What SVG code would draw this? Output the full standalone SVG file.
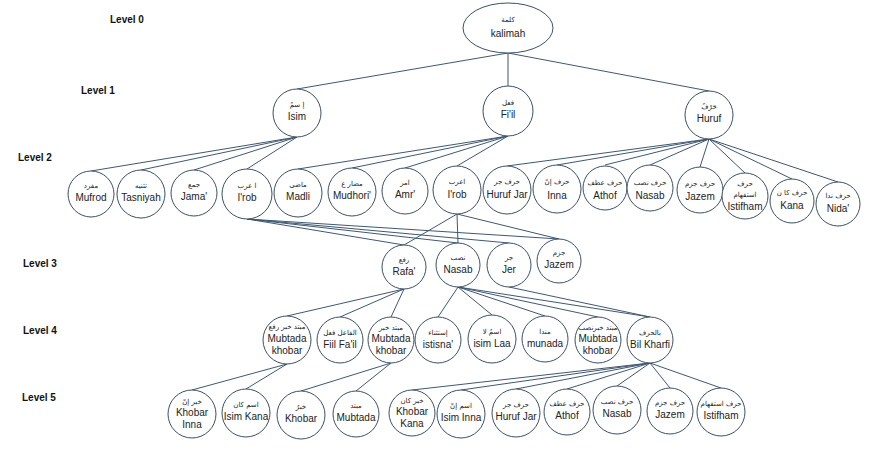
<svg xmlns="http://www.w3.org/2000/svg" width="881" height="457" viewBox="0 0 881 457">
<style>
.n{fill:#fff;stroke:#3c5064;stroke-width:1}
.e line{stroke:#3f5870;stroke-width:1}
text{text-anchor:middle;fill:#222}
.l{font-family:"Liberation Sans",Arial,sans-serif;font-size:10px}
.a{font-family:"DejaVu Sans","Noto Sans",sans-serif;font-size:7px}
.v{font-family:"Liberation Sans",Arial,sans-serif;font-size:10px;font-weight:bold;text-anchor:start;fill:#111}
</style>
<rect width="881" height="457" fill="#fff"/>
<g id="levels">
<text class="v" x="110" y="23">Level 0</text>
<text class="v" x="81" y="94">Level 1</text>
<text class="v" x="18" y="161">Level 2</text>
<text class="v" x="23" y="267">Level 3</text>
<text class="v" x="23" y="334">Level 4</text>
<text class="v" x="22" y="401">Level 5</text>
</g>
<g id="connectors" class="e">
<line x1="508" y1="53" x2="297" y2="89"/>
<line x1="508" y1="53" x2="508" y2="86"/>
<line x1="508" y1="53" x2="709" y2="91"/>
<line x1="297" y1="137" x2="91" y2="171"/>
<line x1="297" y1="137" x2="141" y2="170"/>
<line x1="297" y1="137" x2="194" y2="170"/>
<line x1="297" y1="137" x2="247" y2="169"/>
<line x1="508" y1="136" x2="298" y2="169"/>
<line x1="508" y1="136" x2="352" y2="168"/>
<line x1="508" y1="136" x2="405" y2="168"/>
<line x1="508" y1="136" x2="457" y2="166"/>
<line x1="709" y1="139" x2="507" y2="166"/>
<line x1="709" y1="139" x2="557" y2="165"/>
<line x1="709" y1="139" x2="605" y2="165"/>
<line x1="709" y1="139" x2="650" y2="165"/>
<line x1="709" y1="139" x2="700" y2="167"/>
<line x1="709" y1="139" x2="745" y2="173"/>
<line x1="709" y1="139" x2="792" y2="179"/>
<line x1="709" y1="139" x2="838" y2="182"/>
<line x1="247" y1="219" x2="404" y2="245"/>
<line x1="247" y1="219" x2="458" y2="243"/>
<line x1="247" y1="219" x2="509" y2="243"/>
<line x1="247" y1="219" x2="559" y2="239"/>
<line x1="457" y1="214" x2="404" y2="245"/>
<line x1="457" y1="214" x2="458" y2="243"/>
<line x1="457" y1="214" x2="559" y2="239"/>
<line x1="404" y1="289" x2="287" y2="316"/>
<line x1="404" y1="289" x2="340" y2="317"/>
<line x1="404" y1="289" x2="391" y2="317"/>
<line x1="458" y1="287" x2="438" y2="317"/>
<line x1="458" y1="287" x2="492" y2="315"/>
<line x1="458" y1="287" x2="545" y2="316"/>
<line x1="458" y1="287" x2="598" y2="317"/>
<line x1="458" y1="287" x2="650" y2="317"/>
<line x1="509" y1="287" x2="650" y2="317"/>
<line x1="287" y1="364" x2="192" y2="390"/>
<line x1="287" y1="364" x2="246" y2="389"/>
<line x1="391" y1="363" x2="301" y2="391"/>
<line x1="391" y1="363" x2="356" y2="391"/>
<line x1="650" y1="363" x2="412" y2="390"/>
<line x1="650" y1="363" x2="461" y2="390"/>
<line x1="650" y1="363" x2="516" y2="389"/>
<line x1="650" y1="363" x2="567" y2="389"/>
<line x1="650" y1="363" x2="617" y2="386"/>
<line x1="650" y1="363" x2="670" y2="388"/>
<line x1="650" y1="363" x2="721" y2="388"/>
</g>
<g id="kalimah"><ellipse class="n" cx="508" cy="28" rx="45" ry="25"/><text class="a" x="508" y="22">كلمة</text><text class="l" x="508" y="37">kalimah</text></g>
<g id="isim"><circle class="n" cx="297" cy="113" r="24"/><text class="a" x="297" y="107">إ سمٌ</text><text class="l" x="297" y="120">Isim</text></g>
<g id="fiil"><circle class="n" cx="508" cy="111" r="25"/><text class="a" x="508" y="105">فعل</text><text class="l" x="508" y="118">Fi'il</text></g>
<g id="huruf"><circle class="n" cx="709" cy="115" r="24"/><text class="a" x="709" y="109">حَرْفٌ</text><text class="l" x="709" y="122">Huruf</text></g>

<g id="mufrod"><circle class="n" cx="91" cy="194" r="23"/><text class="a" x="91" y="188">مفرد</text><text class="l" x="91" y="201">Mufrod</text></g>
<g id="tasniyah"><circle class="n" cx="141" cy="194" r="24"/><text class="a" x="141" y="188">تثنيه</text><text class="l" x="141" y="201">Tasniyah</text></g>
<g id="jama"><circle class="n" cx="194" cy="193" r="23"/><text class="a" x="194" y="187">جمع</text><text class="l" x="194" y="200">Jama'</text></g>
<g id="irob-isim"><circle class="n" cx="247" cy="194" r="25"/><text class="a" x="247" y="188">ا عرب</text><text class="l" x="247" y="201">I'rob</text></g>
<g id="madli"><circle class="n" cx="298" cy="193" r="24"/><text class="a" x="298" y="187">ماضى</text><text class="l" x="298" y="200">Madli</text></g>
<g id="mudhori"><circle class="n" cx="352" cy="192" r="24"/><text class="a" x="352" y="186">مضار ع</text><text class="l" x="352" y="199">Mudhori'</text></g>
<g id="amr"><circle class="n" cx="405" cy="191" r="23"/><text class="a" x="405" y="185">امر</text><text class="l" x="405" y="198">Amr'</text></g>
<g id="irob-fiil"><circle class="n" cx="457" cy="190" r="24"/><text class="a" x="457" y="184">اعرب</text><text class="l" x="457" y="198">I'rob</text></g>
<g id="huruf-jar"><circle class="n" cx="507" cy="190" r="24"/><text class="a" x="507" y="184">حرف جر</text><text class="l" x="507" y="198">Huruf Jar</text></g>
<g id="inna"><circle class="n" cx="557" cy="189" r="24"/><text class="a" x="557" y="184">حرف إنّ</text><text class="l" x="557" y="199">Inna</text></g>
<g id="athof"><circle class="n" cx="605" cy="188" r="22"/><text class="a" x="605" y="185">حرف عطف</text><text class="l" x="605" y="199">Athof</text></g>
<g id="nasab-h"><circle class="n" cx="650" cy="188" r="23"/><text class="a" x="650" y="185">حرف نصب</text><text class="l" x="650" y="199">Nasab</text></g>
<g id="jazem-h"><circle class="n" cx="700" cy="190" r="23"/><text class="a" x="700" y="186">حرف جزم</text><text class="l" x="700" y="200">Jazem</text></g>
<g id="istifham-h"><circle class="n" cx="745" cy="196" r="23"/><text class="a" x="745" y="186">حرف</text><text class="a" x="745" y="197">استفهام</text><text class="l" x="745" y="210">Istifham</text></g>
<g id="kana"><circle class="n" cx="792" cy="201" r="22"/><text class="a" x="792" y="195">حرف كا ن</text><text class="l" x="792" y="209">Kana</text></g>
<g id="nida"><circle class="n" cx="838" cy="204" r="22"/><text class="a" x="838" y="198">حرف ندا</text><text class="l" x="838" y="212">Nida'</text></g>

<g id="rafa"><circle class="n" cx="404" cy="267" r="22"/><text class="a" x="404" y="262">رفع</text><text class="l" x="404" y="275">Rafa'</text></g>
<g id="nasab"><circle class="n" cx="458" cy="265" r="22"/><text class="a" x="458" y="260">نصب</text><text class="l" x="458" y="273">Nasab</text></g>
<g id="jer"><circle class="n" cx="509" cy="265" r="22"/><text class="a" x="509" y="260">جر</text><text class="l" x="509" y="273">Jer</text></g>
<g id="jazem"><circle class="n" cx="559" cy="261" r="22"/><text class="a" x="559" y="255">جزم</text><text class="l" x="559" y="268">Jazem</text></g>

<g id="mubtada-khobar-rafa"><circle class="n" cx="287" cy="340" r="24"/><text class="a" x="287" y="329">مبتد خبر رفع</text><text class="l" x="287" y="342">Mubtada</text><text class="l" x="287" y="354">khobar</text></g>
<g id="fiil-fail"><circle class="n" cx="340" cy="340" r="23"/><text class="a" x="340" y="335">الفاعل فعل</text><text class="l" x="340" y="348">Fiil Fa'il</text></g>
<g id="mubtada-khobar"><circle class="n" cx="391" cy="340" r="23"/><text class="a" x="391" y="330">مبتد خبر</text><text class="l" x="391" y="342">Mubtada</text><text class="l" x="391" y="354">khobar</text></g>
<g id="istisna"><circle class="n" cx="438" cy="340" r="23"/><text class="a" x="438" y="335">إستثناء</text><text class="l" x="438" y="348">istisna'</text></g>
<g id="isim-laa"><circle class="n" cx="492" cy="339" r="24"/><text class="a" x="492" y="334">اسمُ لا</text><text class="l" x="492" y="347">isim Laa</text></g>
<g id="munada"><circle class="n" cx="545" cy="339" r="23"/><text class="a" x="545" y="334">مندا</text><text class="l" x="545" y="347">munada</text></g>
<g id="mubtada-khobar-nasab"><circle class="n" cx="598" cy="340" r="23"/><text class="a" x="598" y="330">مبتد خبرنصب</text><text class="l" x="598" y="342">Mubtada</text><text class="l" x="598" y="354">khobar</text></g>
<g id="bil-kharfi"><circle class="n" cx="650" cy="340" r="23"/><text class="a" x="650" y="335">بالحرف</text><text class="l" x="650" y="348">Bil Kharfi</text></g>

<g id="khobar-inna"><circle class="n" cx="192" cy="414" r="24"/><text class="a" x="192" y="404">خبر إنّ</text><text class="l" x="192" y="416">Khobar</text><text class="l" x="192" y="428">Inna</text></g>
<g id="isim-kana"><circle class="n" cx="246" cy="413" r="24"/><text class="a" x="246" y="407">اسم كان</text><text class="l" x="246" y="420">Isim Kana</text></g>
<g id="khobar"><circle class="n" cx="301" cy="415" r="24"/><text class="a" x="301" y="409">خبرٌ</text><text class="l" x="301" y="422">Khobar</text></g>
<g id="mubtada"><circle class="n" cx="356" cy="414" r="23"/><text class="a" x="356" y="408">مبتد</text><text class="l" x="356" y="421">Mubtada</text></g>
<g id="khobar-kana"><circle class="n" cx="412" cy="413" r="23"/><text class="a" x="412" y="403">خبر كان</text><text class="l" x="412" y="415">Khobar</text><text class="l" x="412" y="427">Kana</text></g>
<g id="isim-inna"><circle class="n" cx="461" cy="414" r="24"/><text class="a" x="461" y="408">اسم إنّ</text><text class="l" x="461" y="421">Isim Inna</text></g>
<g id="huruf-jar-5"><circle class="n" cx="516" cy="413" r="24"/><text class="a" x="516" y="407">حرف جر</text><text class="l" x="516" y="420">Huruf Jar</text></g>
<g id="athof-5"><circle class="n" cx="567" cy="412" r="23"/><text class="a" x="567" y="406">حرف عطف</text><text class="l" x="567" y="419">Athof</text></g>
<g id="nasab-5"><circle class="n" cx="617" cy="410" r="24"/><text class="a" x="617" y="404">حرف نصب</text><text class="l" x="617" y="417">Nasab</text></g>
<g id="jazem-5"><circle class="n" cx="670" cy="411" r="23"/><text class="a" x="670" y="405">حرف جزم</text><text class="l" x="670" y="418">Jazem</text></g>
<g id="istifham-5"><circle class="n" cx="721" cy="412" r="24"/><text class="a" x="721" y="406">حرف استفهام</text><text class="l" x="721" y="419">Istifham</text></g>
</svg>
